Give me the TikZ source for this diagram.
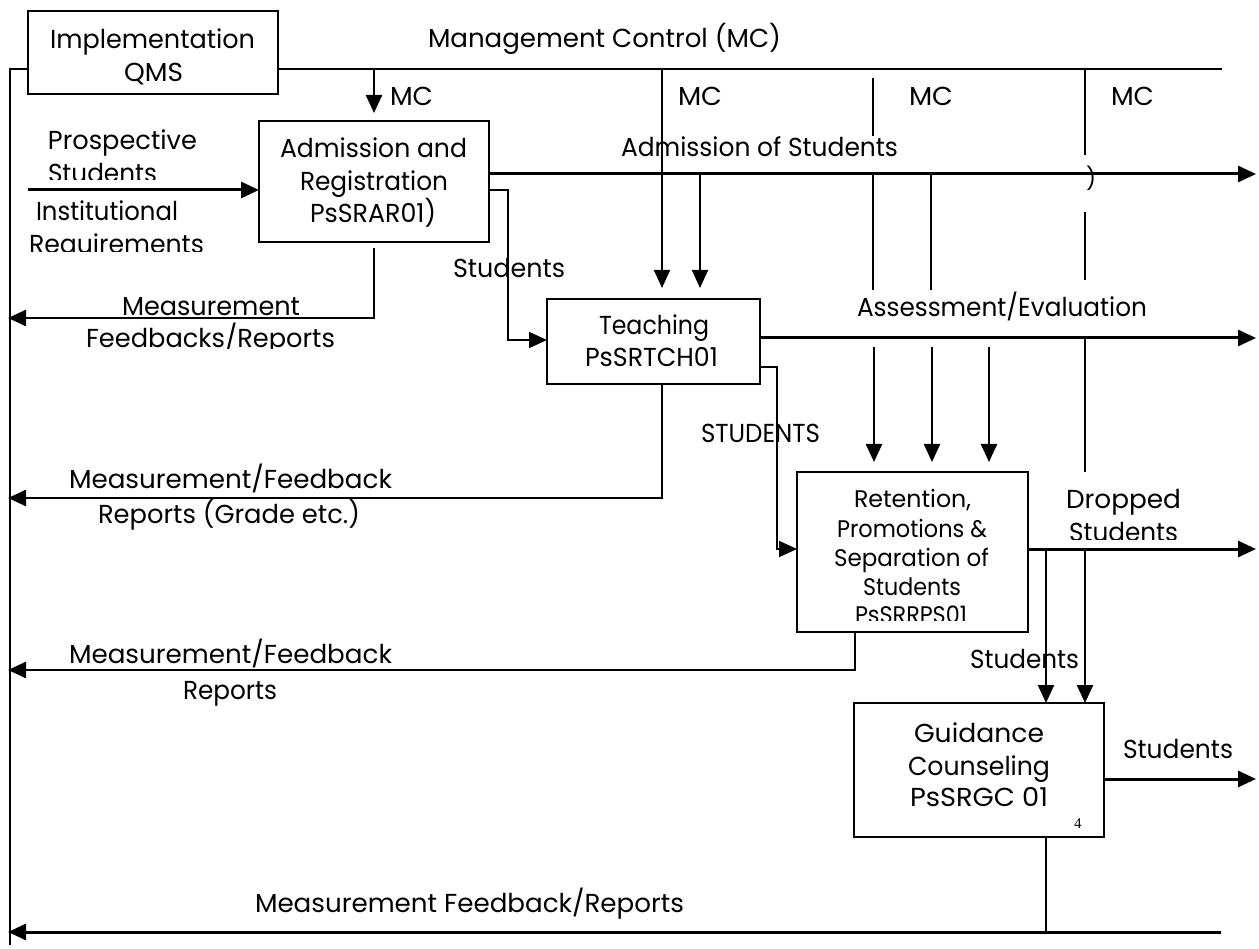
\documentclass[tikz,border=0pt]{standalone}
\usepackage{fontspec}
\setmainfont{Poppins}
\newfontfamily\numfont{Liberation Serif}
\usepackage{graphicx}
\usetikzlibrary{arrows.meta}

% set a text horizontally to a given width (pt), keeping its height
\newcommand{\tw}[2]{\resizebox{#1pt}{\height}{#2}}

\begin{document}
\begin{tikzpicture}[x=1pt,y=-1pt,
  box/.style={draw, line width=2pt, inner sep=0pt, outer sep=0pt},
  lbl/.style={inner sep=0pt, outer sep=0pt, anchor=base west, font=\fontsize{26}{28}\selectfont},
  slbl/.style={lbl, font=\fontsize{24}{26}\selectfont},
  flow/.style={line width=3pt},
  ctl/.style={line width=2.4pt},
  thn/.style={line width=1.8pt},
  arr/.style={-{Triangle[length=18pt,width=16pt]}},
]
\fill[white] (0,0) rectangle (1259,949);
\useasboundingbox (0,0) rectangle (1259,949);

% ---------- activity boxes ----------
\node[box, minimum width=250pt, minimum height=83pt]  (qms) at (153,52.5) {};
\node[box, minimum width=230pt, minimum height=121pt] (adm) at (374,181.5) {};
\node[box, minimum width=213pt, minimum height=85pt]  (tch) at (653.5,341.5) {};
\node[box, minimum width=231pt, minimum height=160pt] (ret) at (912.5,552) {};
\node[box, minimum width=250pt, minimum height=134pt] (gdc) at (979,770) {};

% ---------- free ends ----------
\coordinate (ctlL) at (10,69);
\coordinate (ctlR) at (1222,69);
\coordinate (baseL) at (10,945);
\coordinate (inL) at (28,190);
\coordinate (out1) at (1256,174);
\coordinate (out2) at (1256,338);
\coordinate (out3) at (1256,549);
\coordinate (out4) at (1256,779);
\coordinate (a2t) at (508,190);
\coordinate (t2r) at (777,549);
\coordinate (fb1) at (8,318);
\coordinate (tfb) at (662,498);
\coordinate (fb2) at (8,498);
\coordinate (rfb) at (855,670);
\coordinate (fb3) at (8,670);
\coordinate (gfb) at (1046,932);
\coordinate (bR) at (1221,932);
\coordinate (fb4) at (8,932);
\coordinate (mcA) at (662,69);
\coordinate (tipA) at (662,288);
\coordinate (tipB) at (700,288);
\coordinate (mcC1) at (873,78);
\coordinate (mcC2) at (873,136);
\coordinate (sC) at (873,290);
\coordinate (sD) at (931,290);
\coordinate (mcE1) at (1085,155);
\coordinate (mcE2) at (1085,212);
\coordinate (mcE3) at (1085,280);
\coordinate (mcE4) at (1085,472);
\coordinate (asA) at (874,347);
\coordinate (asB) at (932,347);
\coordinate (asC) at (989,347);
\coordinate (d1) at (1046,549);
\coordinate (d2) at (1085,549);

% ---------- management control ----------
\draw[ctl] (qms.west |- ctlL) -- (ctlL) -- (baseL);
\draw[ctl] (qms.east |- ctlL) -- (ctlR);
\draw[ctl,arr] (adm.north |- ctlL) -- ([yshift=8pt]adm.north);
\draw[thn,arr] (mcA) -- (tipA);
\draw[thn,arr] (tipB |- out1) -- (tipB);
\draw[thn] (mcC1) -- (mcC2);
\draw[thn] (sC |- out1) -- (sC);
\draw[thn] (sD |- out1) -- (sD);
\draw[thn] (mcE1 |- ctlL) -- (mcE1);
\draw[thn] (mcE2) -- (mcE3);
\draw[thn] (mcE4 |- out2) -- (mcE4);
\draw[ctl,arr] (asA) -- (asA |- 0,462);
\draw[ctl,arr] (asB) -- (asB |- 0,462);
\draw[ctl,arr] (asC) -- (asC |- 0,462);

% ---------- flows ----------
\draw[flow,arr] (inL) -- (adm.west |- inL);
\draw[flow,arr] (adm.east |- out1) -- (out1);
\draw[thn,arr] (adm.east |- a2t) -- (a2t) |- ([yshift=1.5pt]tch.west);
\draw[flow,arr] (tch.east |- out2) -- (out2);
\draw[thn,arr] ([yshift=-25.5pt]tch.east) -| (t2r) -- (ret.west |- t2r);
\draw[flow,arr] (ret.east |- out3) -- (out3);
\draw[ctl,arr] (d1) -- (gdc.north -| d1);
\draw[ctl,arr] (d2) -- (gdc.north -| d2);
\draw[flow,arr] (gdc.east |- out4) -- (out4);

% ---------- feedback ----------
\draw[ctl,arr] ([yshift=-6pt]adm.south) |- (fb1);
\draw[ctl,arr] (tch.south -| tfb) -- (tfb) -- (fb2);
\draw[ctl,arr] (ret.south -| rfb) -- (rfb) -- (fb3);
\draw[thn] (gdc.south -| gfb) -- (gfb);
\draw[flow,arr] (bR) -- (fb4);

% ---------- texts ----------
\node[lbl] (qmsA) at (50,49) {\tw{205}{Implementation}};
\node[lbl] (qmsB) at (124,82) {\tw{59}{QMS}};
\node[lbl] (mct) at (428,48) {\tw{353}{Management Control (MC)}};
\node[lbl] (mc1) at (390,106) {\tw{43}{MC}};
\node[lbl] (mc2) at (678,106) {\tw{44}{MC}};
\node[lbl] (mc3) at (909,106) {\tw{44}{MC}};
\node[lbl] (mc4) at (1111,106) {\tw{43}{MC}};
\node[lbl] (pros) at (48,150) {\tw{149}{Prospective}};
\begin{scope}
  \clip (0,150) rectangle (300,180);
  \node[lbl] (prosB) at (48,183) {\tw{109}{Students}};
\end{scope}
\node[lbl] (inst) at (36,221) {\tw{142}{Institutional}};
\begin{scope}
  \clip (0,225) rectangle (300,252);
  \node[lbl] (req) at (29,254) {\tw{175}{Requirements}};
\end{scope}
\node[lbl] (admA) at (280,158) {\tw{187}{Admission and}};
\node[lbl] (admB) at (300,191) {\tw{148}{Registration}};
\node[lbl] (admC) at (310,223) {\tw{126}{PsSRAR01)}};
\begin{scope}
  \clip (0,290) rectangle (360,316);
  \node[lbl] (meas) at (122,316) {\tw{178}{Measurement}};
\end{scope}
\begin{scope}
  \clip (0,320) rectangle (360,349);
  \node[lbl] (fbr) at (86,348) {\tw{249}{Feedbacks/Reports}};
\end{scope}
\node[lbl] (adst) at (621,157) {\tw{277}{Admission of Students}};
\node[lbl] (paren) at (1086,187) {\fontsize{22}{24}\selectfont )};
\node[lbl] (stuA) at (453,278) {\tw{112}{Students}};
\node[lbl] (tchA) at (599,335) {\tw{110}{Teaching}};
\node[lbl] (tchB) at (585,367) {\tw{133}{PsSRTCH01}};
\node[lbl] (asev) at (857,317) {\tw{290}{Assessment/Evaluation}};
\node[lbl] (stuB) at (701,443) {\tw{119}{STUDENTS}};
\node[lbl] (mfA) at (69,489) {\tw{323}{Measurement/Feedback}};
\node[lbl] (mfB) at (98,523) {\tw{262}{Reports (Grade etc.)}};
\node[slbl] (retA) at (854,508) {\tw{117}{Retention,}};
\node[slbl] (retB) at (837,537) {\tw{150}{Promotions \&}};
\node[slbl] (retC) at (834,566) {\tw{155}{Separation of}};
\node[slbl] (retD) at (863,595) {\tw{98}{Students}};
\begin{scope}
  \clip (800,600) rectangle (1020,620);
  \node[slbl] (retE) at (855,623) {\tw{112}{PsSRRPS01}};
\end{scope}
\node[lbl] (drA) at (1066,508) {\tw{115}{Dropped}};
\begin{scope}
  \clip (1050,515) rectangle (1200,539);
  \node[lbl] (drB) at (1069,541) {\tw{109}{Students}};
\end{scope}
\node[lbl] (stuC) at (970,668) {\tw{109}{Students}};
\node[lbl] (mrA) at (69,663) {\tw{323}{Measurement/Feedback}};
\node[lbl] (mrB) at (183,699) {\tw{94}{Reports}};
\node[lbl] (gdA) at (914,742) {\tw{130}{Guidance}};
\node[lbl] (gdB) at (908,775) {\tw{142}{Counseling}};
\node[lbl] (gdC) at (910,806) {\tw{138}{PsSRGC 01}};
\node[lbl] (pg) at (1074,828) {\fontsize{15}{16}\numfont 4};
\node[lbl] (stuD) at (1123,758) {\tw{110}{Students}};
\node[lbl] (mfb) at (255,912) {\tw{429}{Measurement Feedback/Reports}};
\end{tikzpicture}
\end{document}
